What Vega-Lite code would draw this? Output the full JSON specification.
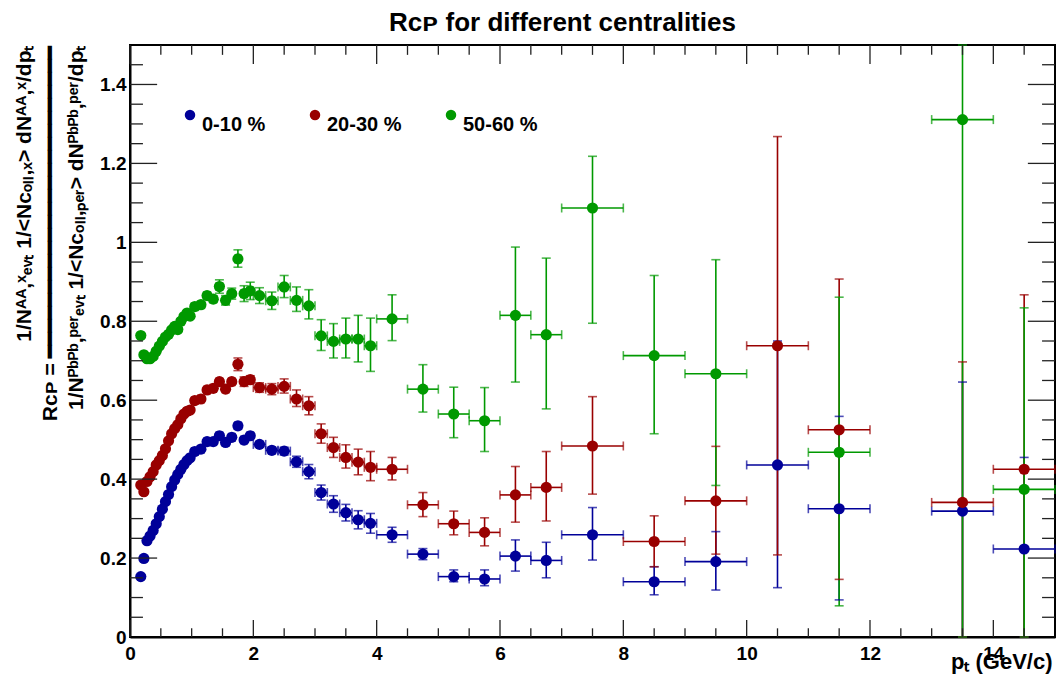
{
"$schema": "https://vega.github.io/schema/vega-lite/v6.json",
"width": 925, "height": 592,
"autosize": {"type": "none"},
"padding": {"left": 130, "top": 45, "right": 1, "bottom": 40},
"background": "white",
"title": {"text": "Rᴄᴘ for different centralities", "font": "Liberation Sans", "fontSize": 26, "fontWeight": "bold", "color": "black", "anchor": "middle", "dx": -30, "offset": 8},
"config": {
  "view": {"stroke": "black", "strokeWidth": 2}
},
"datasets": {
  "xticks": [
    {"v":0,"k":"major"},{"v":0.5,"k":"minor"},{"v":1,"k":"minor"},{"v":1.5,"k":"minor"},{"v":2,"k":"major"},{"v":2.5,"k":"minor"},{"v":3,"k":"minor"},{"v":3.5,"k":"minor"},
    {"v":4,"k":"major"},{"v":4.5,"k":"minor"},{"v":5,"k":"minor"},{"v":5.5,"k":"minor"},{"v":6,"k":"major"},{"v":6.5,"k":"minor"},{"v":7,"k":"minor"},{"v":7.5,"k":"minor"},
    {"v":8,"k":"major"},{"v":8.5,"k":"minor"},{"v":9,"k":"minor"},{"v":9.5,"k":"minor"},{"v":10,"k":"major"},{"v":10.5,"k":"minor"},{"v":11,"k":"minor"},{"v":11.5,"k":"minor"},
    {"v":12,"k":"major"},{"v":12.5,"k":"minor"},{"v":13,"k":"minor"},{"v":13.5,"k":"minor"},{"v":14,"k":"major"},{"v":14.5,"k":"minor"}
  ],
  "yticks": [
    {"v":0.05,"k":"minor"},{"v":0.1,"k":"minor"},{"v":0.15,"k":"minor"},{"v":0.2,"k":"major"},{"v":0.25,"k":"minor"},{"v":0.3,"k":"minor"},{"v":0.35,"k":"minor"},
    {"v":0.4,"k":"major"},{"v":0.45,"k":"minor"},{"v":0.5,"k":"minor"},{"v":0.55,"k":"minor"},{"v":0.6,"k":"major"},{"v":0.65,"k":"minor"},{"v":0.7,"k":"minor"},{"v":0.75,"k":"minor"},
    {"v":0.8,"k":"major"},{"v":0.85,"k":"minor"},{"v":0.9,"k":"minor"},{"v":0.95,"k":"minor"},{"v":1.0,"k":"major"},{"v":1.05,"k":"minor"},{"v":1.1,"k":"minor"},{"v":1.15,"k":"minor"},
    {"v":1.2,"k":"major"},{"v":1.25,"k":"minor"},{"v":1.3,"k":"minor"},{"v":1.35,"k":"minor"},{"v":1.4,"k":"major"},{"v":1.45,"k":"minor"}
  ],
  "rcp": [
{"s":"0-10 %","x":0.175,"y":0.153,"xlo":0.15,"xhi":0.2,"ylo":0.150,"yhi":0.156},
{"s":"0-10 %","x":0.225,"y":0.199,"xlo":0.2,"xhi":0.25,"ylo":0.196,"yhi":0.202},
{"s":"0-10 %","x":0.275,"y":0.244,"xlo":0.25,"xhi":0.3,"ylo":0.241,"yhi":0.247},
{"s":"0-10 %","x":0.325,"y":0.256,"xlo":0.3,"xhi":0.35,"ylo":0.253,"yhi":0.259},
{"s":"0-10 %","x":0.375,"y":0.270,"xlo":0.35,"xhi":0.4,"ylo":0.267,"yhi":0.273},
{"s":"0-10 %","x":0.425,"y":0.287,"xlo":0.4,"xhi":0.45,"ylo":0.284,"yhi":0.290},
{"s":"0-10 %","x":0.475,"y":0.305,"xlo":0.45,"xhi":0.5,"ylo":0.302,"yhi":0.308},
{"s":"0-10 %","x":0.525,"y":0.324,"xlo":0.5,"xhi":0.55,"ylo":0.321,"yhi":0.327},
{"s":"0-10 %","x":0.575,"y":0.343,"xlo":0.55,"xhi":0.6,"ylo":0.340,"yhi":0.346},
{"s":"0-10 %","x":0.625,"y":0.361,"xlo":0.6,"xhi":0.65,"ylo":0.358,"yhi":0.364},
{"s":"0-10 %","x":0.675,"y":0.381,"xlo":0.65,"xhi":0.7,"ylo":0.378,"yhi":0.384},
{"s":"0-10 %","x":0.725,"y":0.398,"xlo":0.7,"xhi":0.75,"ylo":0.395,"yhi":0.401},
{"s":"0-10 %","x":0.775,"y":0.412,"xlo":0.75,"xhi":0.8,"ylo":0.409,"yhi":0.415},
{"s":"0-10 %","x":0.825,"y":0.425,"xlo":0.8,"xhi":0.85,"ylo":0.422,"yhi":0.428},
{"s":"0-10 %","x":0.875,"y":0.437,"xlo":0.85,"xhi":0.9,"ylo":0.434,"yhi":0.440},
{"s":"0-10 %","x":0.925,"y":0.447,"xlo":0.9,"xhi":0.95,"ylo":0.444,"yhi":0.450},
{"s":"0-10 %","x":0.975,"y":0.454,"xlo":0.95,"xhi":1.0,"ylo":0.451,"yhi":0.457},
{"s":"0-10 %","x":1.05,"y":0.470,"xlo":1.0,"xhi":1.1,"ylo":0.466,"yhi":0.474},
{"s":"0-10 %","x":1.15,"y":0.476,"xlo":1.1,"xhi":1.2,"ylo":0.472,"yhi":0.480},
{"s":"0-10 %","x":1.25,"y":0.495,"xlo":1.2,"xhi":1.3,"ylo":0.491,"yhi":0.499},
{"s":"0-10 %","x":1.35,"y":0.495,"xlo":1.3,"xhi":1.4,"ylo":0.491,"yhi":0.499},
{"s":"0-10 %","x":1.45,"y":0.510,"xlo":1.4,"xhi":1.5,"ylo":0.506,"yhi":0.514},
{"s":"0-10 %","x":1.55,"y":0.493,"xlo":1.5,"xhi":1.6,"ylo":0.489,"yhi":0.497},
{"s":"0-10 %","x":1.65,"y":0.506,"xlo":1.6,"xhi":1.7,"ylo":0.502,"yhi":0.510},
{"s":"0-10 %","x":1.75,"y":0.535,"xlo":1.7,"xhi":1.8,"ylo":0.527,"yhi":0.543},
{"s":"0-10 %","x":1.85,"y":0.499,"xlo":1.8,"xhi":1.9,"ylo":0.493,"yhi":0.505},
{"s":"0-10 %","x":1.95,"y":0.510,"xlo":1.9,"xhi":2.0,"ylo":0.504,"yhi":0.516},
{"s":"0-10 %","x":2.1,"y":0.488,"xlo":2.0,"xhi":2.2,"ylo":0.481,"yhi":0.495},
{"s":"0-10 %","x":2.3,"y":0.473,"xlo":2.2,"xhi":2.4,"ylo":0.465,"yhi":0.481},
{"s":"0-10 %","x":2.5,"y":0.471,"xlo":2.4,"xhi":2.6,"ylo":0.461,"yhi":0.481},
{"s":"0-10 %","x":2.7,"y":0.444,"xlo":2.6,"xhi":2.8,"ylo":0.430,"yhi":0.458},
{"s":"0-10 %","x":2.9,"y":0.419,"xlo":2.8,"xhi":3.0,"ylo":0.401,"yhi":0.437},
{"s":"0-10 %","x":3.1,"y":0.366,"xlo":3.0,"xhi":3.2,"ylo":0.347,"yhi":0.385},
{"s":"0-10 %","x":3.3,"y":0.337,"xlo":3.2,"xhi":3.4,"ylo":0.316,"yhi":0.358},
{"s":"0-10 %","x":3.5,"y":0.315,"xlo":3.4,"xhi":3.6,"ylo":0.294,"yhi":0.336},
{"s":"0-10 %","x":3.7,"y":0.297,"xlo":3.6,"xhi":3.8,"ylo":0.274,"yhi":0.320},
{"s":"0-10 %","x":3.9,"y":0.288,"xlo":3.8,"xhi":4.0,"ylo":0.263,"yhi":0.313},
{"s":"0-10 %","x":4.25,"y":0.259,"xlo":4.0,"xhi":4.5,"ylo":0.240,"yhi":0.278},
{"s":"0-10 %","x":4.75,"y":0.210,"xlo":4.5,"xhi":5.0,"ylo":0.196,"yhi":0.224},
{"s":"0-10 %","x":5.25,"y":0.153,"xlo":5.0,"xhi":5.5,"ylo":0.140,"yhi":0.170},
{"s":"0-10 %","x":5.75,"y":0.147,"xlo":5.5,"xhi":6.0,"ylo":0.130,"yhi":0.170},
{"s":"0-10 %","x":6.25,"y":0.205,"xlo":6.0,"xhi":6.5,"ylo":0.167,"yhi":0.246},
{"s":"0-10 %","x":6.75,"y":0.194,"xlo":6.5,"xhi":7.0,"ylo":0.150,"yhi":0.240},
{"s":"0-10 %","x":7.5,"y":0.259,"xlo":7.0,"xhi":8.0,"ylo":0.195,"yhi":0.328},
{"s":"0-10 %","x":8.5,"y":0.140,"xlo":8.0,"xhi":9.0,"ylo":0.107,"yhi":0.178},
{"s":"0-10 %","x":9.5,"y":0.191,"xlo":9.0,"xhi":10.0,"ylo":0.119,"yhi":0.267},
{"s":"0-10 %","x":10.5,"y":0.436,"xlo":10.0,"xhi":11.0,"ylo":0.125,"yhi":0.750},
{"s":"0-10 %","x":11.5,"y":0.325,"xlo":11.0,"xhi":12.0,"ylo":0.094,"yhi":0.559},
{"s":"0-10 %","x":13.5,"y":0.319,"xlo":13.0,"xhi":14.0,"ylo":-0.008,"yhi":0.646},
{"s":"0-10 %","x":14.5,"y":0.223,"xlo":14.0,"xhi":15.0,"ylo":-0.009,"yhi":0.455},
{"s":"20-30 %","x":0.175,"y":0.385,"xlo":0.15,"xhi":0.2,"ylo":0.381,"yhi":0.389},
{"s":"20-30 %","x":0.225,"y":0.368,"xlo":0.2,"xhi":0.25,"ylo":0.364,"yhi":0.372},
{"s":"20-30 %","x":0.275,"y":0.394,"xlo":0.25,"xhi":0.3,"ylo":0.390,"yhi":0.398},
{"s":"20-30 %","x":0.325,"y":0.406,"xlo":0.3,"xhi":0.35,"ylo":0.402,"yhi":0.410},
{"s":"20-30 %","x":0.375,"y":0.419,"xlo":0.35,"xhi":0.4,"ylo":0.415,"yhi":0.423},
{"s":"20-30 %","x":0.425,"y":0.436,"xlo":0.4,"xhi":0.45,"ylo":0.432,"yhi":0.440},
{"s":"20-30 %","x":0.475,"y":0.447,"xlo":0.45,"xhi":0.5,"ylo":0.443,"yhi":0.451},
{"s":"20-30 %","x":0.525,"y":0.460,"xlo":0.5,"xhi":0.55,"ylo":0.456,"yhi":0.464},
{"s":"20-30 %","x":0.575,"y":0.477,"xlo":0.55,"xhi":0.6,"ylo":0.473,"yhi":0.481},
{"s":"20-30 %","x":0.625,"y":0.497,"xlo":0.6,"xhi":0.65,"ylo":0.493,"yhi":0.501},
{"s":"20-30 %","x":0.675,"y":0.515,"xlo":0.65,"xhi":0.7,"ylo":0.511,"yhi":0.519},
{"s":"20-30 %","x":0.725,"y":0.528,"xlo":0.7,"xhi":0.75,"ylo":0.524,"yhi":0.532},
{"s":"20-30 %","x":0.775,"y":0.538,"xlo":0.75,"xhi":0.8,"ylo":0.534,"yhi":0.542},
{"s":"20-30 %","x":0.825,"y":0.553,"xlo":0.8,"xhi":0.85,"ylo":0.549,"yhi":0.557},
{"s":"20-30 %","x":0.875,"y":0.565,"xlo":0.85,"xhi":0.9,"ylo":0.561,"yhi":0.569},
{"s":"20-30 %","x":0.925,"y":0.572,"xlo":0.9,"xhi":0.95,"ylo":0.568,"yhi":0.576},
{"s":"20-30 %","x":0.975,"y":0.575,"xlo":0.95,"xhi":1.0,"ylo":0.571,"yhi":0.579},
{"s":"20-30 %","x":1.05,"y":0.599,"xlo":1.0,"xhi":1.1,"ylo":0.593,"yhi":0.605},
{"s":"20-30 %","x":1.15,"y":0.603,"xlo":1.1,"xhi":1.2,"ylo":0.597,"yhi":0.609},
{"s":"20-30 %","x":1.25,"y":0.626,"xlo":1.2,"xhi":1.3,"ylo":0.620,"yhi":0.632},
{"s":"20-30 %","x":1.35,"y":0.630,"xlo":1.3,"xhi":1.4,"ylo":0.624,"yhi":0.636},
{"s":"20-30 %","x":1.45,"y":0.647,"xlo":1.4,"xhi":1.5,"ylo":0.641,"yhi":0.653},
{"s":"20-30 %","x":1.55,"y":0.628,"xlo":1.5,"xhi":1.6,"ylo":0.622,"yhi":0.634},
{"s":"20-30 %","x":1.65,"y":0.647,"xlo":1.6,"xhi":1.7,"ylo":0.641,"yhi":0.653},
{"s":"20-30 %","x":1.75,"y":0.691,"xlo":1.7,"xhi":1.8,"ylo":0.675,"yhi":0.707},
{"s":"20-30 %","x":1.85,"y":0.647,"xlo":1.8,"xhi":1.9,"ylo":0.635,"yhi":0.659},
{"s":"20-30 %","x":1.95,"y":0.652,"xlo":1.9,"xhi":2.0,"ylo":0.642,"yhi":0.662},
{"s":"20-30 %","x":2.1,"y":0.632,"xlo":2.0,"xhi":2.2,"ylo":0.620,"yhi":0.644},
{"s":"20-30 %","x":2.3,"y":0.628,"xlo":2.2,"xhi":2.4,"ylo":0.614,"yhi":0.642},
{"s":"20-30 %","x":2.5,"y":0.635,"xlo":2.4,"xhi":2.6,"ylo":0.618,"yhi":0.654},
{"s":"20-30 %","x":2.7,"y":0.603,"xlo":2.6,"xhi":2.8,"ylo":0.584,"yhi":0.626},
{"s":"20-30 %","x":2.9,"y":0.586,"xlo":2.8,"xhi":3.0,"ylo":0.563,"yhi":0.609},
{"s":"20-30 %","x":3.1,"y":0.515,"xlo":3.0,"xhi":3.2,"ylo":0.491,"yhi":0.540},
{"s":"20-30 %","x":3.3,"y":0.480,"xlo":3.2,"xhi":3.4,"ylo":0.455,"yhi":0.506},
{"s":"20-30 %","x":3.5,"y":0.455,"xlo":3.4,"xhi":3.6,"ylo":0.428,"yhi":0.487},
{"s":"20-30 %","x":3.7,"y":0.443,"xlo":3.6,"xhi":3.8,"ylo":0.411,"yhi":0.476},
{"s":"20-30 %","x":3.9,"y":0.430,"xlo":3.8,"xhi":4.0,"ylo":0.396,"yhi":0.470},
{"s":"20-30 %","x":4.25,"y":0.425,"xlo":4.0,"xhi":4.5,"ylo":0.398,"yhi":0.455},
{"s":"20-30 %","x":4.75,"y":0.335,"xlo":4.5,"xhi":5.0,"ylo":0.305,"yhi":0.366},
{"s":"20-30 %","x":5.25,"y":0.287,"xlo":5.0,"xhi":5.5,"ylo":0.259,"yhi":0.319},
{"s":"20-30 %","x":5.75,"y":0.265,"xlo":5.5,"xhi":6.0,"ylo":0.231,"yhi":0.302},
{"s":"20-30 %","x":6.25,"y":0.360,"xlo":6.0,"xhi":6.5,"ylo":0.291,"yhi":0.432},
{"s":"20-30 %","x":6.75,"y":0.379,"xlo":6.5,"xhi":7.0,"ylo":0.294,"yhi":0.470},
{"s":"20-30 %","x":7.5,"y":0.484,"xlo":7.0,"xhi":8.0,"ylo":0.362,"yhi":0.609},
{"s":"20-30 %","x":8.5,"y":0.242,"xlo":8.0,"xhi":9.0,"ylo":0.178,"yhi":0.307},
{"s":"20-30 %","x":9.5,"y":0.345,"xlo":9.0,"xhi":10.0,"ylo":0.210,"yhi":0.483},
{"s":"20-30 %","x":10.5,"y":0.738,"xlo":10.0,"xhi":11.0,"ylo":0.208,"yhi":1.268},
{"s":"20-30 %","x":11.5,"y":0.525,"xlo":11.0,"xhi":12.0,"ylo":0.146,"yhi":0.907},
{"s":"20-30 %","x":13.5,"y":0.341,"xlo":13.0,"xhi":14.0,"ylo":-0.015,"yhi":0.697},
{"s":"20-30 %","x":14.5,"y":0.425,"xlo":14.0,"xhi":15.0,"ylo":-0.017,"yhi":0.867},
{"s":"50-60 %","x":0.175,"y":0.764,"xlo":0.15,"xhi":0.2,"ylo":0.759,"yhi":0.769},
{"s":"50-60 %","x":0.225,"y":0.715,"xlo":0.2,"xhi":0.25,"ylo":0.710,"yhi":0.720},
{"s":"50-60 %","x":0.275,"y":0.705,"xlo":0.25,"xhi":0.3,"ylo":0.700,"yhi":0.710},
{"s":"50-60 %","x":0.325,"y":0.705,"xlo":0.3,"xhi":0.35,"ylo":0.700,"yhi":0.710},
{"s":"50-60 %","x":0.375,"y":0.711,"xlo":0.35,"xhi":0.4,"ylo":0.706,"yhi":0.716},
{"s":"50-60 %","x":0.425,"y":0.724,"xlo":0.4,"xhi":0.45,"ylo":0.719,"yhi":0.729},
{"s":"50-60 %","x":0.475,"y":0.737,"xlo":0.45,"xhi":0.5,"ylo":0.732,"yhi":0.742},
{"s":"50-60 %","x":0.525,"y":0.749,"xlo":0.5,"xhi":0.55,"ylo":0.744,"yhi":0.754},
{"s":"50-60 %","x":0.575,"y":0.760,"xlo":0.55,"xhi":0.6,"ylo":0.755,"yhi":0.765},
{"s":"50-60 %","x":0.625,"y":0.767,"xlo":0.6,"xhi":0.65,"ylo":0.762,"yhi":0.772},
{"s":"50-60 %","x":0.675,"y":0.778,"xlo":0.65,"xhi":0.7,"ylo":0.773,"yhi":0.783},
{"s":"50-60 %","x":0.725,"y":0.787,"xlo":0.7,"xhi":0.75,"ylo":0.782,"yhi":0.792},
{"s":"50-60 %","x":0.775,"y":0.779,"xlo":0.75,"xhi":0.8,"ylo":0.774,"yhi":0.784},
{"s":"50-60 %","x":0.825,"y":0.800,"xlo":0.8,"xhi":0.85,"ylo":0.795,"yhi":0.805},
{"s":"50-60 %","x":0.875,"y":0.812,"xlo":0.85,"xhi":0.9,"ylo":0.807,"yhi":0.817},
{"s":"50-60 %","x":0.925,"y":0.821,"xlo":0.9,"xhi":0.95,"ylo":0.816,"yhi":0.826},
{"s":"50-60 %","x":0.975,"y":0.813,"xlo":0.95,"xhi":1.0,"ylo":0.808,"yhi":0.818},
{"s":"50-60 %","x":1.05,"y":0.837,"xlo":1.0,"xhi":1.1,"ylo":0.829,"yhi":0.845},
{"s":"50-60 %","x":1.15,"y":0.842,"xlo":1.1,"xhi":1.2,"ylo":0.834,"yhi":0.850},
{"s":"50-60 %","x":1.25,"y":0.865,"xlo":1.2,"xhi":1.3,"ylo":0.857,"yhi":0.873},
{"s":"50-60 %","x":1.35,"y":0.856,"xlo":1.3,"xhi":1.4,"ylo":0.848,"yhi":0.864},
{"s":"50-60 %","x":1.45,"y":0.888,"xlo":1.4,"xhi":1.5,"ylo":0.871,"yhi":0.905},
{"s":"50-60 %","x":1.55,"y":0.853,"xlo":1.5,"xhi":1.6,"ylo":0.841,"yhi":0.865},
{"s":"50-60 %","x":1.65,"y":0.870,"xlo":1.6,"xhi":1.7,"ylo":0.856,"yhi":0.884},
{"s":"50-60 %","x":1.75,"y":0.958,"xlo":1.7,"xhi":1.8,"ylo":0.937,"yhi":0.981},
{"s":"50-60 %","x":1.85,"y":0.870,"xlo":1.8,"xhi":1.9,"ylo":0.850,"yhi":0.890},
{"s":"50-60 %","x":1.95,"y":0.877,"xlo":1.9,"xhi":2.0,"ylo":0.855,"yhi":0.899},
{"s":"50-60 %","x":2.1,"y":0.865,"xlo":2.0,"xhi":2.2,"ylo":0.845,"yhi":0.885},
{"s":"50-60 %","x":2.3,"y":0.852,"xlo":2.2,"xhi":2.4,"ylo":0.830,"yhi":0.874},
{"s":"50-60 %","x":2.5,"y":0.887,"xlo":2.4,"xhi":2.6,"ylo":0.860,"yhi":0.916},
{"s":"50-60 %","x":2.7,"y":0.853,"xlo":2.6,"xhi":2.8,"ylo":0.825,"yhi":0.887},
{"s":"50-60 %","x":2.9,"y":0.839,"xlo":2.8,"xhi":3.0,"ylo":0.806,"yhi":0.880},
{"s":"50-60 %","x":3.1,"y":0.763,"xlo":3.0,"xhi":3.2,"ylo":0.726,"yhi":0.804},
{"s":"50-60 %","x":3.3,"y":0.749,"xlo":3.2,"xhi":3.4,"ylo":0.707,"yhi":0.794},
{"s":"50-60 %","x":3.5,"y":0.755,"xlo":3.4,"xhi":3.6,"ylo":0.707,"yhi":0.808},
{"s":"50-60 %","x":3.7,"y":0.755,"xlo":3.6,"xhi":3.8,"ylo":0.697,"yhi":0.815},
{"s":"50-60 %","x":3.9,"y":0.738,"xlo":3.8,"xhi":4.0,"ylo":0.673,"yhi":0.808},
{"s":"50-60 %","x":4.25,"y":0.806,"xlo":4.0,"xhi":4.5,"ylo":0.751,"yhi":0.867},
{"s":"50-60 %","x":4.75,"y":0.628,"xlo":4.5,"xhi":5.0,"ylo":0.570,"yhi":0.690},
{"s":"50-60 %","x":5.25,"y":0.565,"xlo":5.0,"xhi":5.5,"ylo":0.505,"yhi":0.633},
{"s":"50-60 %","x":5.75,"y":0.548,"xlo":5.5,"xhi":6.0,"ylo":0.470,"yhi":0.632},
{"s":"50-60 %","x":6.25,"y":0.815,"xlo":6.0,"xhi":6.5,"ylo":0.646,"yhi":0.988},
{"s":"50-60 %","x":6.75,"y":0.766,"xlo":6.5,"xhi":7.0,"ylo":0.578,"yhi":0.960},
{"s":"50-60 %","x":7.5,"y":1.087,"xlo":7.0,"xhi":8.0,"ylo":0.795,"yhi":1.218},
{"s":"50-60 %","x":8.5,"y":0.713,"xlo":8.0,"xhi":9.0,"ylo":0.515,"yhi":0.916},
{"s":"50-60 %","x":9.5,"y":0.667,"xlo":9.0,"xhi":10.0,"ylo":0.384,"yhi":0.956},
{"s":"50-60 %","x":11.5,"y":0.468,"xlo":11.0,"xhi":12.0,"ylo":0.079,"yhi":0.861},
{"s":"50-60 %","x":13.5,"y":1.311,"xlo":13.0,"xhi":14.0,"ylo":-0.009,"yhi":2.631},
{"s":"50-60 %","x":14.5,"y":0.374,"xlo":14.0,"xhi":15.0,"ylo":-0.086,"yhi":0.834}
  ]
},
"data": {"name": "rcp"},
"layer": [
  {
    "mark": {"type": "rule", "strokeWidth": 1.6},
    "encoding": {
      "x": {"field": "x", "type": "quantitative", "scale": {"domain": [0, 15], "nice": false, "zero": false, "clamp": true},
            "axis": {"orient": "bottom", "values": [0,2,4,6,8,10,12,14], "format": "d", "ticks": false, "grid": false, "labelPadding": 7, "labelFlush": false, "domainColor": "black", "domainWidth": 2,
                     "labelFont": "Liberation Sans", "labelFontWeight": "bold", "labelFontSize": 19, "labelColor": "black",
                     "title": "pₜ (GeV/c)", "titleFont": "Liberation Sans", "titleFontWeight": "bold", "titleColor": "black", "titleFontSize": 22, "titleAlign": "right", "titleX": 922, "titleY": 31, "titleBaseline": "alphabetic"}},
      "y": {"field": "ylo", "type": "quantitative", "scale": {"domain": [0, 1.5], "nice": false, "zero": false, "clamp": true},
            "axis": {"orient": "left", "values": [0,0.2,0.4,0.6,0.8,1,1.2,1.4], "format": ".1~f", "ticks": false, "grid": false, "labelPadding": 4, "domainColor": "black", "domainWidth": 2,
                     "labelFont": "Liberation Sans", "labelFontWeight": "bold", "labelFontSize": 19, "labelColor": "black",
                     "title": ["1/Nᴬᴬ,ˣₑᵥₜ 1/<Ncₒₗₗ,ₓ> dNᴬᴬ,ˣ/dpₜ\u00a0\u00a0\u00a0\u00a0", "Rᴄᴘ = ━━━━━━━━━━━━━━━━━━━━━━━━", "1/Nᴾᵇᴾᵇ,ᵖᵉʳₑᵥₜ 1/<Ncₒₗₗ,ₚₑᵣ> dNᴾᵇᴾᵇ,ᵖᵉʳ/dpₜ"],
                     "titleFont": "Liberation Sans", "titleFontWeight": "bold", "titleColor": "black",
                     "titleFontSize": 21, "titleLineHeight": 26, "titleAngle": 270, "titleAlign": "right", "titleBaseline": "top", "titleX": -117, "titleY": 0}},
      "y2": {"field": "yhi"},
      "color": {"field": "s", "type": "nominal", "scale": {"domain": ["0-10 %", "20-30 %", "50-60 %"], "range": ["#000099", "#990000", "#009900"]}, "legend": null}
    }
  },
  {
    "mark": {"type": "rule", "strokeWidth": 1.6},
    "encoding": {
      "x": {"field": "xlo", "type": "quantitative", "axis": null},
      "x2": {"field": "xhi"},
      "y": {"field": "y", "type": "quantitative", "axis": null},
      "color": {"field": "s", "type": "nominal", "legend": null}
    }
  },
  {
    "transform": [{"fold": ["ylo", "yhi"], "as": ["k", "yc"]}],
    "mark": {"type": "tick", "orient": "horizontal", "size": 9, "thickness": 1.6},
    "encoding": {
      "x": {"field": "x", "type": "quantitative", "axis": null},
      "y": {"field": "yc", "type": "quantitative", "axis": null},
      "color": {"field": "s", "type": "nominal", "legend": null}
    }
  },
  {
    "transform": [{"fold": ["xlo", "xhi"], "as": ["k2", "xc"]}],
    "mark": {"type": "tick", "orient": "vertical", "size": 9, "thickness": 1.6},
    "encoding": {
      "x": {"field": "xc", "type": "quantitative", "axis": null},
      "y": {"field": "y", "type": "quantitative", "axis": null},
      "color": {"field": "s", "type": "nominal", "legend": null}
    }
  },
  {
    "mark": {"type": "circle", "size": 125, "opacity": 1},
    "encoding": {
      "x": {"field": "x", "type": "quantitative", "axis": null},
      "y": {"field": "y", "type": "quantitative", "axis": null},
      "color": {"field": "s", "type": "nominal",
                "legend": {"title": null, "orient": "none", "legendX": 50, "legendY": 60, "direction": "horizontal", "symbolType": "circle", "symbolSize": 110,
                           "labelFont": "Liberation Sans", "labelFontWeight": "bold", "labelFontSize": 20, "labelColor": "black", "labelBaseline": "top", "labelOffset": 2, "columnPadding": 39, "padding": 0}}
    }
  },
  {
    "data": {"name": "xticks"},
    "transform": [{"filter": "datum.k == 'major'"}],
    "mark": {"type": "rule", "strokeWidth": 1.3, "color": "#222"},
    "encoding": {
      "x": {"field": "v", "type": "quantitative", "axis": null},
      "y": {"datum": 0, "type": "quantitative", "axis": null},
      "y2": {"datum": 0.043}
    }
  },
  {
    "data": {"name": "xticks"},
    "transform": [{"filter": "datum.k == 'minor'"}],
    "mark": {"type": "rule", "strokeWidth": 1.3, "color": "#222"},
    "encoding": {
      "x": {"field": "v", "type": "quantitative", "axis": null},
      "y": {"datum": 0, "type": "quantitative", "axis": null},
      "y2": {"datum": 0.022}
    }
  },
  {
    "data": {"name": "xticks"},
    "transform": [{"filter": "datum.k == 'major'"}],
    "mark": {"type": "rule", "strokeWidth": 1.3, "color": "#222"},
    "encoding": {
      "x": {"field": "v", "type": "quantitative", "axis": null},
      "y": {"datum": 1.5, "type": "quantitative", "axis": null},
      "y2": {"datum": 1.452}
    }
  },
  {
    "data": {"name": "xticks"},
    "transform": [{"filter": "datum.k == 'minor'"}],
    "mark": {"type": "rule", "strokeWidth": 1.3, "color": "#222"},
    "encoding": {
      "x": {"field": "v", "type": "quantitative", "axis": null},
      "y": {"datum": 1.5, "type": "quantitative", "axis": null},
      "y2": {"datum": 1.475}
    }
  },
  {
    "data": {"name": "yticks"},
    "transform": [{"filter": "datum.k == 'major'"}],
    "mark": {"type": "rule", "strokeWidth": 1.3, "color": "#222"},
    "encoding": {
      "y": {"field": "v", "type": "quantitative", "axis": null},
      "x": {"datum": 0, "type": "quantitative", "axis": null},
      "x2": {"datum": 0.44}
    }
  },
  {
    "data": {"name": "yticks"},
    "transform": [{"filter": "datum.k == 'minor'"}],
    "mark": {"type": "rule", "strokeWidth": 1.3, "color": "#222"},
    "encoding": {
      "y": {"field": "v", "type": "quantitative", "axis": null},
      "x": {"datum": 0, "type": "quantitative", "axis": null},
      "x2": {"datum": 0.21}
    }
  },
  {
    "data": {"name": "yticks"},
    "transform": [{"filter": "datum.k == 'major'"}],
    "mark": {"type": "rule", "strokeWidth": 1.3, "color": "#222"},
    "encoding": {
      "y": {"field": "v", "type": "quantitative", "axis": null},
      "x": {"datum": 15, "type": "quantitative", "axis": null},
      "x2": {"datum": 14.56}
    }
  },
  {
    "data": {"name": "yticks"},
    "transform": [{"filter": "datum.k == 'minor'"}],
    "mark": {"type": "rule", "strokeWidth": 1.3, "color": "#222"},
    "encoding": {
      "y": {"field": "v", "type": "quantitative", "axis": null},
      "x": {"datum": 15, "type": "quantitative", "axis": null},
      "x2": {"datum": 14.79}
    }
  }
],
"resolve": {"axis": {"x": "independent", "y": "independent"}, "legend": {"color": "independent"}}
}
